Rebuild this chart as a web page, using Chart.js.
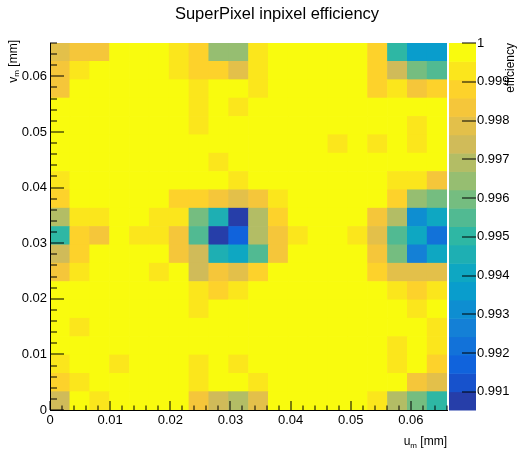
<!DOCTYPE html>
<html>
<head>
<meta charset="utf-8">
<script src="https://cdn.jsdelivr.net/npm/chart.js@4.4.1/dist/chart.umd.min.js"></script>
<style>
  html, body { margin: 0; padding: 0; background: #fff; }
</style>
</head>
<body>
<canvas id="chart" width="517" height="452"></canvas>
<script>
const uTicks = [0, 0.01, 0.02, 0.03, 0.04, 0.05, 0.06];
const vTicks = [0, 0.01, 0.02, 0.03, 0.04, 0.05, 0.06];
const zTicks = [0.991, 0.992, 0.993, 0.994, 0.995, 0.996, 0.997, 0.998, 0.999, 1];
const uRange = [0, 0.066];
const vRange = [0, 0.066];
const zRange = [0.99053, 1];
const nBins = 20;
const nLevels = 20;

// efficiency per cell, top row (v = 0.066) first, columns from u = 0
const effRows = [
    [0.9979, 0.9983, 0.9983, 1, 1, 1, 0.9993, 0.9988, 0.9964, 0.9964, 0.9993, 1, 1, 1, 1, 1, 0.9988, 0.9950, 0.9936, 0.9936],
    [0.9983, 0.9993, 1, 1, 1, 1, 0.9993, 0.9988, 0.9988, 0.9979, 0.9993, 1, 1, 1, 1, 1, 0.9988, 0.9974, 0.9960, 0.9955],
    [0.9983, 1, 1, 1, 1, 1, 1, 0.9993, 1, 1, 0.9993, 1, 1, 1, 1, 1, 0.9988, 0.9993, 0.9983, 0.9988],
    [1, 1, 1, 1, 1, 1, 1, 0.9993, 1, 0.9993, 1, 1, 1, 1, 1, 1, 1, 1, 1, 1],
    [1, 1, 1, 1, 1, 1, 1, 0.9993, 1, 1, 1, 1, 1, 1, 1, 1, 1, 1, 0.9993, 1],
    [1, 1, 1, 1, 1, 1, 1, 1, 1, 1, 1, 1, 1, 1, 0.9993, 1, 0.9993, 1, 0.9993, 1],
    [1, 1, 1, 1, 1, 1, 1, 1, 0.9993, 1, 1, 1, 1, 1, 1, 1, 1, 1, 1, 1],
    [0.9993, 1, 1, 1, 1, 1, 1, 1, 1, 0.9993, 1, 1, 1, 1, 1, 1, 1, 0.9993, 0.9993, 0.9983],
    [0.9988, 1, 1, 1, 1, 1, 0.9988, 0.9988, 0.9983, 0.9979, 0.9983, 0.9993, 1, 1, 1, 1, 1, 0.9988, 0.9964, 0.9960],
    [0.9969, 0.9993, 0.9993, 1, 1, 0.9993, 0.9993, 0.9960, 0.9946, 0.9908, 0.9969, 0.9988, 1, 1, 1, 1, 0.9983, 0.9969, 0.9931, 0.9941],
    [0.9950, 0.9988, 0.9983, 1, 0.9993, 0.9993, 0.9983, 0.9955, 0.9908, 0.9917, 0.9969, 0.9983, 0.9993, 1, 1, 0.9993, 0.9979, 0.9955, 0.9941, 0.9922],
    [0.9974, 0.9988, 1, 1, 1, 1, 0.9983, 0.9974, 0.9946, 0.9941, 0.9955, 0.9983, 1, 1, 1, 1, 0.9983, 0.9960, 0.9927, 0.9941],
    [0.9983, 0.9993, 1, 1, 1, 0.9993, 1, 0.9974, 0.9983, 0.9979, 0.9988, 1, 1, 1, 1, 1, 0.9988, 0.9979, 0.9979, 0.9979],
    [1, 1, 1, 1, 1, 1, 1, 0.9993, 0.9988, 0.9993, 1, 1, 1, 1, 1, 1, 1, 0.9993, 0.9988, 0.9993],
    [1, 1, 1, 1, 1, 1, 1, 0.9993, 1, 1, 1, 1, 1, 1, 1, 1, 1, 1, 0.9993, 1],
    [1, 0.9993, 1, 1, 1, 1, 1, 1, 1, 1, 1, 1, 1, 1, 1, 1, 1, 1, 1, 0.9993],
    [1, 1, 1, 1, 1, 1, 1, 1, 1, 1, 1, 1, 1, 1, 1, 1, 1, 0.9993, 1, 0.9993],
    [0.9993, 1, 1, 0.9993, 1, 1, 1, 0.9993, 1, 0.9993, 1, 1, 1, 1, 1, 1, 1, 0.9993, 1, 0.9988],
    [0.9988, 0.9993, 1, 1, 1, 1, 1, 0.9993, 1, 1, 0.9993, 1, 1, 1, 1, 1, 1, 1, 0.9983, 0.9979],
    [0.9974, 1, 0.9993, 1, 1, 1, 1, 0.9983, 0.9974, 0.9969, 0.9979, 1, 1, 1, 1, 1, 0.9993, 0.9969, 0.9960, 0.9950]
];

const FONT = "'Liberation Sans', Arial, Helvetica, sans-serif";

// ROOT kBird palette
const stops = [0, 0.125, 0.25, 0.375, 0.5, 0.625, 0.75, 0.875, 1];
const reds = [0.2082, 0.0592, 0.0780, 0.0232, 0.1802, 0.5301, 0.8186, 0.9956, 0.9764];
const greens = [0.1664, 0.3599, 0.5041, 0.6419, 0.7178, 0.7492, 0.7328, 0.7862, 0.9832];
const blues = [0.5293, 0.8684, 0.8385, 0.7914, 0.6425, 0.4662, 0.3499, 0.1968, 0.0539];

function bird(f) {
    f = Math.max(0, Math.min(1, f));
    let k = 0;
    while (k < stops.length - 2 && f > stops[k + 1]) k++;
    const t = (f - stops[k]) / (stops[k + 1] - stops[k]);
    const c = arr => Math.round(255 * (arr[k] + t * (arr[k + 1] - arr[k])));
    return `rgb(${c(reds)},${c(greens)},${c(blues)})`;
}

function levelColor(k) {
    return bird(Math.min(1, (k + 0.99) / nLevels));
}

function cellColor(v) {
    const k = Math.floor((v - zRange[0]) / (zRange[1] - zRange[0]) * nLevels);
    return levelColor(Math.max(0, Math.min(nLevels - 1, k)));
}

const du = (uRange[1] - uRange[0]) / nBins;
const dv = (vRange[1] - vRange[0]) / nBins;

const datasets = effRows.slice().reverse().map((row, i) => ({
    data: row.map((v, j) => ({
        x: uRange[0] + (j + 0.5) * du,
        y: [vRange[0] + i * dv, vRange[0] + (i + 1) * dv],
        v
    })),
    backgroundColor: row.map(cellColor),
    borderWidth: 0,
    grouped: false,
    barPercentage: 1,
    categoryPercentage: 1
}));

const fmt = v => (v === 0 ? '0' : String(+v.toFixed(3)));

function drawSubLabel(ctx, main, sub, rest, endX, baseY) {
    ctx.font = `12px ${FONT}`;
    const w1 = ctx.measureText(main).width;
    const w3 = ctx.measureText(rest).width;
    ctx.font = `8px ${FONT}`;
    const w2 = ctx.measureText(sub).width;
    const x0 = endX - (w1 + w2 + w3);
    ctx.textAlign = 'left';
    ctx.textBaseline = 'alphabetic';
    ctx.font = `12px ${FONT}`;
    ctx.fillText(main, x0, baseY);
    ctx.font = `8px ${FONT}`;
    ctx.fillText(sub, x0 + w1, baseY + 2.5);
    ctx.font = `12px ${FONT}`;
    ctx.fillText(rest, x0 + w1 + w2, baseY);
}

// 1px tick marks as filled rects
const vTick = (ctx, px, yBase, len) => ctx.fillRect(Math.round(px) - 0.5, yBase - len, 1, len);
const hTick = (ctx, xBase, py, len) => ctx.fillRect(xBase, Math.round(py) - 0.5, len, 1);

const rootFrame = {
    id: 'rootFrame',
    afterDraw(chart) {
        const { ctx, chartArea: a } = chart;
        const { x, y, z } = chart.scales;
        ctx.save();

        // colour bar
        const dz = (zRange[1] - zRange[0]) / nLevels;
        const bl = z.left + 2, br = z.left + 29;
        for (let k = 0; k < nLevels; k++) {
            const y0 = z.getPixelForValue(zRange[0] + k * dz);
            const y1 = z.getPixelForValue(zRange[0] + (k + 1) * dz);
            ctx.fillStyle = levelColor(k);
            ctx.fillRect(bl, Math.min(y0, y1), br - bl, Math.abs(y1 - y0) + 0.5);
        }

        ctx.fillStyle = '#000';
        zTicks.forEach(v => hTick(ctx, br - 14, z.getPixelForValue(v), 14));
        // inward ticks, major every 0.01, minor every 0.002
        for (let k = 0; k * 0.002 <= uRange[1] + 1e-9; k++) {
            vTick(ctx, x.getPixelForValue(k * 0.002), a.bottom, k % 5 === 0 ? 9 : 4.5);
        }
        for (let k = 0; k * 0.002 <= vRange[1] + 1e-9; k++) {
            hTick(ctx, a.left, y.getPixelForValue(k * 0.002), k % 5 === 0 ? 14 : 7);
        }

        ctx.font = `16.5px ${FONT}`;
        ctx.textAlign = 'center';
        ctx.textBaseline = 'middle';
        ctx.fillText('SuperPixel inpixel efficiency', 277, 14);

        drawSubLabel(ctx, 'u', 'm', ' [mm]', a.right, 445);

        ctx.save();
        ctx.translate(16.5, 40);
        ctx.rotate(-Math.PI / 2);
        drawSubLabel(ctx, 'v', 'm', ' [mm]', 0, 0);
        ctx.restore();

        ctx.save();
        ctx.translate(514, a.top);
        ctx.rotate(-Math.PI / 2);
        ctx.font = `12px ${FONT}`;
        ctx.textAlign = 'right';
        ctx.textBaseline = 'alphabetic';
        ctx.fillText('efficiency', 0, 0);
        ctx.restore();

        ctx.restore();
    }
};

const tickFont = { family: FONT, size: 13 };

new Chart(document.getElementById('chart'), {
    type: 'bar',
    data: { datasets },
    options: {
        responsive: false,
        animation: false,
        layout: { padding: { top: 43, left: 0, right: 0, bottom: 0 } },
        plugins: {
            legend: { display: false },
            tooltip: { enabled: false },
            title: { display: false }
        },
        scales: {
            x: {
                type: 'linear',
                offset: false,
                min: uRange[0],
                max: uRange[1],
                afterBuildTicks: s => { s.ticks = uTicks.map(value => ({ value })); },
                afterFit: s => { s.height = 42; },
                grid: { display: false, drawTicks: false },
                border: { display: true, color: '#000', width: 1, z: 1 },
                ticks: { color: '#000', font: tickFont, padding: 3, maxRotation: 0, autoSkip: false, callback: fmt }
            },
            y: {
                type: 'linear',
                min: vRange[0],
                max: vRange[1],
                afterBuildTicks: s => { s.ticks = vTicks.map(value => ({ value })); },
                afterFit: s => { s.width = 50; },
                grid: { display: false, drawTicks: false },
                border: { display: true, color: '#000', width: 1, z: 1 },
                ticks: { color: '#000', font: tickFont, padding: 3, autoSkip: false, callback: fmt }
            },
            z: {
                type: 'linear',
                axis: 'y',
                position: 'right',
                min: zRange[0],
                max: zRange[1],
                afterBuildTicks: s => { s.ticks = zTicks.map(value => ({ value })); },
                afterFit: s => { s.width = 70; },
                grid: { display: false, drawTicks: false },
                border: { display: false },
                ticks: { color: '#000', font: tickFont, padding: 30, autoSkip: false, callback: fmt }
            }
        }
    },
    plugins: [rootFrame]
});
</script>
</body>
</html>
